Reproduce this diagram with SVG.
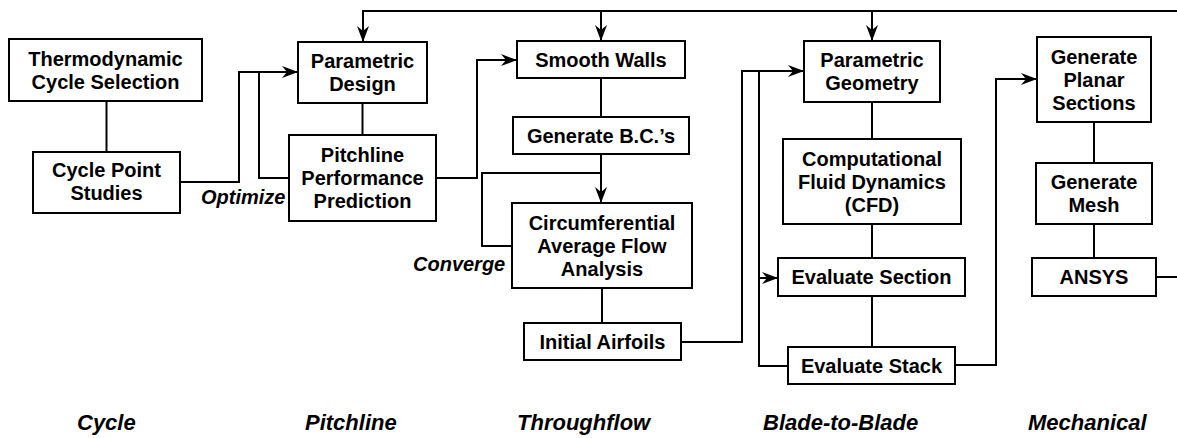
<svg xmlns="http://www.w3.org/2000/svg" width="1177" height="438" viewBox="0 0 1177 438">
<style>
.box{fill:#fff;stroke:#000;stroke-width:2}
.t{font-family:"Liberation Sans",Arial,sans-serif;font-weight:bold;font-size:20px;text-anchor:middle;fill:#000}
.lbl{font-family:"Liberation Sans",Arial,sans-serif;font-weight:bold;font-style:italic;font-size:20px;fill:#000}
.cat{font-family:"Liberation Sans",Arial,sans-serif;font-weight:bold;font-style:italic;font-size:22px;fill:#000}
.c{fill:none;stroke:#000;stroke-width:2}
</style>
<defs>
<marker id="ah" markerUnits="userSpaceOnUse" markerWidth="16" markerHeight="12" refX="16" refY="6" orient="auto">
<path d="M0,0 L16,6 L0,12 L5,6 Z" fill="#000"/>
</marker>
</defs>
<g id="connectors">
<path class="c" d="M106.5,101 V152"/>
<path class="c" d="M180,182 H239 V72 H298" marker-end="url(#ah)"/>
<path class="c" d="M289,178 H259 V72"/>
<path class="c" d="M362.5,103 V135"/>
<path class="c" d="M437,178 H477 V60 H517" marker-end="url(#ah)"/>
<path class="c" d="M1177,11 H363 V42" marker-end="url(#ah)"/>
<path class="c" d="M601,11 V41" marker-end="url(#ah)"/>
<path class="c" d="M872,11 V41" marker-end="url(#ah)"/>
<path class="c" d="M601,78 V117"/>
<path class="c" d="M601,154 V203" marker-end="url(#ah)"/>
<path class="c" d="M512,246 H482 V173 H601"/>
<path class="c" d="M602,288 V323"/>
<path class="c" d="M681,342 H742 V71 H804" marker-end="url(#ah)"/>
<path class="c" d="M788,366 H759 V71"/>
<path class="c" d="M759,278 H778" marker-end="url(#ah)"/>
<path class="c" d="M872,102 V139"/>
<path class="c" d="M872,224 V258"/>
<path class="c" d="M872,296 V347"/>
<path class="c" d="M955,365 H996 V79 H1037" marker-end="url(#ah)"/>
<path class="c" d="M1094,122 V163"/>
<path class="c" d="M1094,224 V258"/>
<path class="c" d="M1156,277 H1177"/>
</g>
<g id="thermo"><rect class="box" x="9" y="39" width="193" height="62"/><text class="t" x="105.5" y="65.7">Thermodynamic</text><text class="t" x="105.5" y="88.7">Cycle Selection</text></g>
<g id="cyclepoint"><rect class="box" x="33" y="152" width="147" height="61"/><text class="t" x="106.5" y="177.2">Cycle Point</text><text class="t" x="106.5" y="200.2">Studies</text></g>
<g id="paramdesign"><rect class="box" x="298" y="42" width="129" height="61"/><text class="t" x="362.5" y="68.2">Parametric</text><text class="t" x="362.5" y="91.2">Design</text></g>
<g id="pitchline"><rect class="box" x="289" y="135" width="147" height="86"/><text class="t" x="362.5" y="162.2">Pitchline</text><text class="t" x="362.5" y="185.2">Performance</text><text class="t" x="362.5" y="208.2">Prediction</text></g>
<g id="smoothwalls"><rect class="box" x="517" y="41" width="168" height="37"/><text class="t" x="601" y="66.7">Smooth Walls</text></g>
<g id="genbc"><rect class="box" x="513" y="117" width="176" height="37"/><text class="t" x="601" y="142.7">Generate B.C.’s</text></g>
<g id="circ"><rect class="box" x="512" y="203" width="180" height="85"/><text class="t" x="602" y="229.5">Circumferential</text><text class="t" x="602" y="252.5">Average Flow</text><text class="t" x="602" y="275.5">Analysis</text></g>
<g id="initial"><rect class="box" x="524" y="323" width="157" height="37"/><text class="t" x="602.5" y="348.7">Initial Airfoils</text></g>
<g id="paramgeom"><rect class="box" x="804" y="41" width="136" height="61"/><text class="t" x="872" y="67.2">Parametric</text><text class="t" x="872" y="90.2">Geometry</text></g>
<g id="cfd"><rect class="box" x="783" y="139" width="178" height="85"/><text class="t" x="872" y="165.7">Computational</text><text class="t" x="872" y="188.7">Fluid Dynamics</text><text class="t" x="872" y="211.7">(CFD)</text></g>
<g id="evalsec"><rect class="box" x="778" y="258" width="187" height="38"/><text class="t" x="871.5" y="284.2">Evaluate Section</text></g>
<g id="evalstack"><rect class="box" x="788" y="347" width="167" height="37"/><text class="t" x="871.5" y="372.7">Evaluate Stack</text></g>
<g id="genplanar"><rect class="box" x="1037" y="37" width="114" height="85"/><text class="t" x="1094" y="63.7">Generate</text><text class="t" x="1094" y="86.7">Planar</text><text class="t" x="1094" y="109.7">Sections</text></g>
<g id="genmesh"><rect class="box" x="1036" y="163" width="116" height="61"/><text class="t" x="1094" y="189.2">Generate</text><text class="t" x="1094" y="212.2">Mesh</text></g>
<g id="ansys"><rect class="box" x="1032" y="258" width="124" height="38"/><text class="t" x="1094" y="284.2">ANSYS</text></g>
<g id="labels">
<text class="lbl" x="201" y="204">Optimize</text>
<text class="lbl" x="413" y="271">Converge</text>
<text class="cat" x="77" y="430">Cycle</text>
<text class="cat" x="305" y="430">Pitchline</text>
<text class="cat" x="517" y="430">Throughflow</text>
<text class="cat" x="763" y="430">Blade-to-Blade</text>
<text class="cat" x="1028" y="430">Mechanical</text>
</g>
</svg>
